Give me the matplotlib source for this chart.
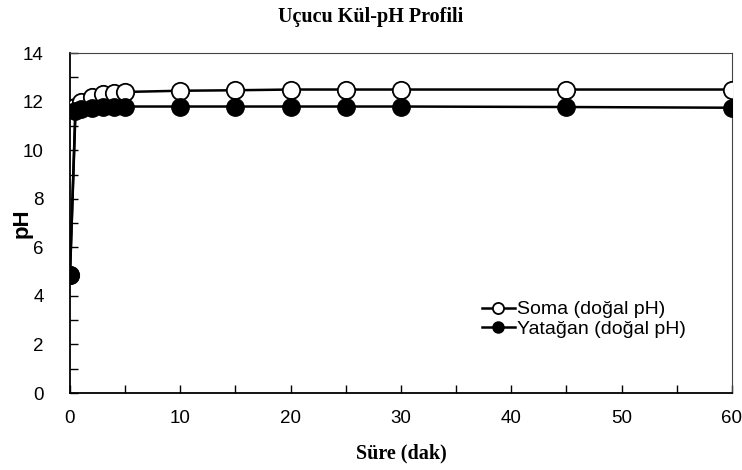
import matplotlib
matplotlib.use("Agg")
import matplotlib.pyplot as plt
from matplotlib.ticker import MultipleLocator

# Time (min) and pH readings for the two fly-ash samples
time_min = [0, 0.5, 1, 2, 3, 4, 5, 10, 15, 20, 25, 30, 45, 60]
soma_ph = [4.85, 11.8, 12.0, 12.2, 12.3, 12.35, 12.4, 12.45, 12.47, 12.5, 12.5, 12.5, 12.5, 12.5]
yatagan_ph = [4.85, 11.6, 11.7, 11.75, 11.78, 11.8, 11.8, 11.8, 11.8, 11.8, 11.8, 11.8, 11.78, 11.75]

series_labels = ["Soma (doğal pH)", "Yatağan (doğal pH)"]
x_ticks = [0, 10, 20, 30, 40, 50, 60]
y_ticks = [0, 2, 4, 6, 8, 10, 12, 14]

sans = ["Liberation Sans", "DejaVu Sans"]
serif = ["Liberation Serif", "DejaVu Serif"]

fig = plt.figure(figsize=(7.42, 4.70), dpi=100)
ax = fig.add_axes([0.0943, 0.1638, 0.8922, 0.7232])

ax.plot(time_min, soma_ph, color="black", lw=1.8, marker="o", ms=12.5,
        mfc="white", mec="black", mew=1.3, label=series_labels[0], zorder=3)
ax.plot(time_min, yatagan_ph, color="black", lw=1.8, marker="o", ms=12.5,
        mfc="black", mec="black", label=series_labels[1], zorder=4)

ax.set_xlim(0, 60)
ax.set_ylim(0, 14)
ax.set_xticks(x_ticks)
ax.set_yticks(y_ticks)
ax.xaxis.set_minor_locator(MultipleLocator(5))
ax.yaxis.set_minor_locator(MultipleLocator(1))
ax.tick_params(which="both", direction="in", top=False, right=False, width=1)
ax.tick_params(which="major", length=6)
ax.tick_params(which="minor", length=6)
ax.tick_params(axis="x", which="major", pad=12)
ax.tick_params(axis="y", which="major", pad=19)

for lbl in ax.get_xticklabels():
    lbl.set_family(sans)
    lbl.set_fontsize(13.5)
for lbl in ax.get_yticklabels():
    lbl.set_family(sans)
    lbl.set_fontsize(13.5)

for side in ["left", "bottom"]:
    ax.spines[side].set_linewidth(1.3)
for side in ["top", "right"]:
    ax.spines[side].set_linewidth(0.8)
    ax.spines[side].set_color("#444444")

ax.set_xlabel("Süre (dak)", family=serif, fontweight="bold", fontsize=14.5, labelpad=12)
ax.set_ylabel("pH", family=sans, fontweight="bold", fontsize=16)
ax.yaxis.set_label_coords(-0.056, 0.5)
fig.suptitle("Uçucu Kül-pH Profili", family=serif, fontweight="bold", fontsize=14.5, y=0.985)

leg = ax.legend(loc="upper left", bbox_to_anchor=(0.607, 0.30), frameon=False,
                prop={"family": sans, "size": 14}, handlelength=1.7,
                handletextpad=0.1, labelspacing=0.1, borderpad=0)
for h in leg.legend_handles:
    h.set_markersize(8)

fig.savefig("out.png", dpi=100)
